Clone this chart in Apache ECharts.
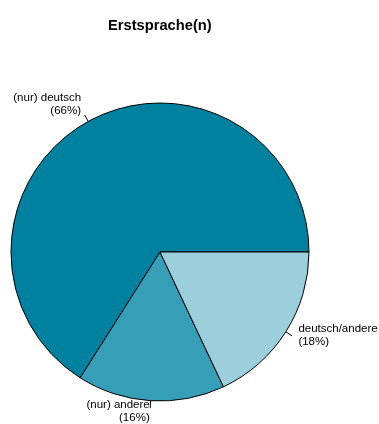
<!DOCTYPE html>
<html><head><meta charset="utf-8">
<script src="https://cdn.jsdelivr.net/npm/echarts@6/dist/echarts.min.js"></script>
<style>html,body{margin:0;padding:0;background:#fff}#c{width:379px;height:424px}</style>
</head><body><div id="c"></div>
<script>
const titleText = 'Erstsprache(n)';
const categories = ['(nur) deutsch', '(nur) andere', 'deutsch/andere'];
const values = [66, 16, 18];
const colors = ['#00819F', '#369EB7', '#9BCFDC'];

const R = 149;
const C = [160, 252];
const font = '"Liberation Sans", Arial, Helvetica, sans-serif';

const lineData = categories.map((c, i) => ({ name: c, value: values[i], itemStyle: { color: colors[i] } }));
const labelData = categories.map((c, i) => ({ name: c, value: values[i] }));

const chart = echarts.init(document.getElementById('c'), null, { renderer: 'canvas' });
chart.setOption({
  animation: false,
  backgroundColor: '#fff',
  title: {
    text: titleText,
    left: 103, top: 13,
    textStyle: { fontFamily: font, fontSize: 14.7, fontWeight: 'bold', color: '#000' }
  },
  series: [
    {
      type: 'pie',
      left: 0, top: 0, width: 379, height: 424,
      center: C, radius: R,
      startAngle: 0, clockwise: false,
      avoidLabelOverlap: false,
      data: lineData,
      itemStyle: { borderColor: '#000', borderWidth: 1 },
      label: { show: true, formatter: ' ', position: 'outside', fontSize: 1, distanceToLabelLine: 0 },
      labelLine: { show: true, length: R * 0.05, length2: 0, smooth: false, lineStyle: { color: '#000', width: 1 } },
      emphasis: { disabled: true }
    },
    {
      type: 'pie',
      left: 0, top: 0, width: 379, height: 424,
      center: C, radius: R,
      startAngle: 0, clockwise: false,
      avoidLabelOverlap: false,
      silent: true,
      data: labelData,
      itemStyle: { color: 'rgba(0,0,0,0)', borderWidth: 0 },
      label: {
        show: true, position: 'outside',
        formatter: p => p.name + '\n(' + Math.round(p.percent) + '%)',
        fontFamily: font, fontSize: 11.5, lineHeight: 13, color: '#000',
        distanceToLabelLine: 0, bleedMargin: 0
      },
      labelLine: { show: false, length: R * 0.1, length2: 0 },
      labelLayout: { dy: -4 },
      emphasis: { disabled: true }
    }
  ]
});
</script></body></html>
